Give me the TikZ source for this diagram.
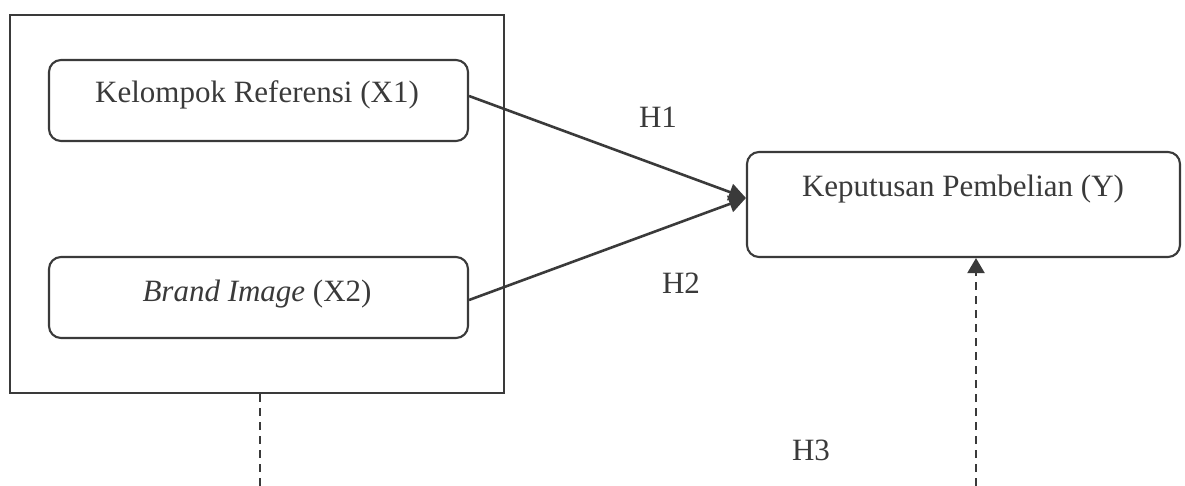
\documentclass[tikz,border=0pt]{standalone}
\usepackage{fontspec}
\setmainfont{Liberation Serif}
\usetikzlibrary{arrows.meta,calc}
\definecolor{ink}{HTML}{3A3A3A}
\tikzset{
  x=1pt,y=-1pt,
  every node/.style={font=\fontsize{31}{36}\selectfont, text=ink},
  varbox/.style={draw=ink, line width=2.1pt, rounded corners=12pt, inner sep=0pt},
  outerbox/.style={draw=ink, line width=2.1pt, inner sep=0pt},
  lbl/.style={anchor=base},
  solidarrow/.style={draw=ink, line width=2.6pt, -{Triangle[length=17pt,width=17pt]}},
  dashline/.style={draw=ink, line width=2.1pt, dash pattern=on 8pt off 6pt},
  dasharrow/.style={dashline, -{Triangle[length=15pt,width=17pt]}}
}
\begin{document}
\begin{tikzpicture}
\useasboundingbox (0,0) rectangle (1185,486);
\node[outerbox, minimum width=494pt, minimum height=378pt] (outer) at (257,204) {};
\node[varbox, minimum width=419pt, minimum height=81pt] (b1) at (258.5,100.5) {};
\node[varbox, minimum width=419pt, minimum height=81pt] (b2) at (258.5,297.5) {};
\node[varbox, minimum width=433pt, minimum height=105pt] (Y) at (963.5,204.5) {};
\node[lbl] (t1) at (257,103) {Kelompok Referensi (X1)};
\node[lbl] (t2) at (257,301) {\textit{Brand Image} (X2)};
\node[lbl] (tY) at (963,197) {Keputusan Pembelian (Y)};
\node[lbl] (h1) at (658,128) {H1};
\node[lbl] (h2) at (681,293) {H2};
\node[lbl] (h3) at (811,460) {H3};
\coordinate (c1) at (260,486);
\coordinate (c3) at (976,486);
\draw[solidarrow] ([yshift=4.5pt]b1.east) -- ([yshift=6.5pt]Y.west);
\draw[solidarrow] ([yshift=-2.5pt]b2.east) -- ([yshift=6.5pt]Y.west);
\draw[dashline] (c1 |- outer.south) -- (c1);
\draw[dasharrow] (c3) -- (c3 |- Y.south);
\end{tikzpicture}
\end{document}
